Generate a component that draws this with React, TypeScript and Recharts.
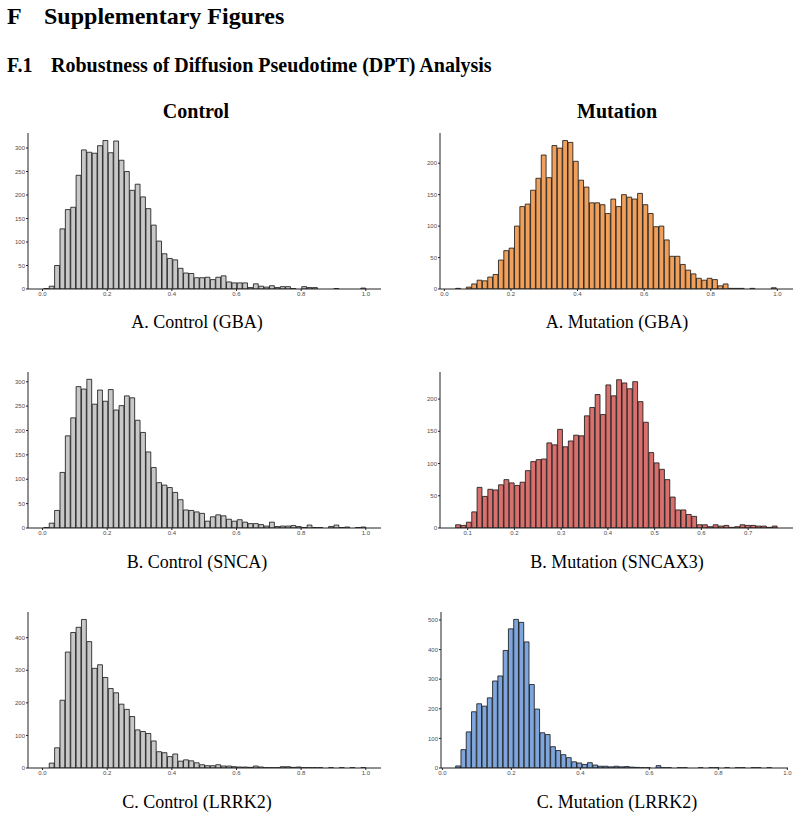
import { BarChart, Bar, XAxis, YAxis } from "recharts";

// Pseudotime histograms, 60 bins each (counts per bin)
const controlGbaCounts = [
  1, 6, 50, 128, 169, 174, 242, 296, 291, 289, 305, 316, 290, 315, 274, 250, 210, 223, 196, 171,
  136, 102, 75, 65, 62, 44, 34, 33, 24, 24, 25, 20, 25, 28, 15, 13, 13, 13, 3, 11,
  6, 4, 7, 3, 5, 5, 1, 0, 5, 3, 3, 0, 0, 0, 1, 0, 0, 0, 0, 2,
];
const mutationGbaCounts = [
  1, 0, 3, 8, 14, 13, 19, 23, 46, 61, 65, 100, 131, 135, 157, 176, 213, 177, 228, 224,
  236, 233, 203, 173, 162, 137, 137, 134, 120, 143, 131, 150, 146, 143, 152, 134, 120, 99, 100, 78,
  52, 52, 39, 30, 24, 17, 14, 17, 15, 5, 8, 1, 1, 1, 0, 1, 0, 0, 0, 2,
];
const controlSncaCounts = [
  1, 10, 36, 114, 189, 226, 290, 285, 305, 254, 283, 260, 284, 242, 251, 271, 267, 221, 196, 156,
  124, 93, 88, 83, 73, 58, 37, 36, 33, 30, 14, 23, 27, 25, 18, 14, 17, 12, 9, 9,
  7, 4, 12, 3, 4, 4, 5, 3, 1, 6, 1, 1, 0, 3, 6, 1, 2, 0, 1, 2,
];
const mutationSncax3Counts = [
  5, 4, 9, 25, 63, 49, 60, 59, 67, 75, 70, 66, 71, 89, 103, 106, 107, 132, 129, 153,
  126, 135, 144, 143, 174, 187, 207, 176, 222, 205, 230, 225, 216, 227, 196, 164, 117, 101, 91, 75,
  48, 28, 28, 21, 18, 5, 5, 2, 5, 3, 4, 1, 2, 5, 4, 4, 3, 3, 1, 3,
];
const controlLrrk2Counts = [
  0, 15, 62, 208, 356, 416, 432, 456, 388, 306, 317, 278, 244, 231, 196, 180, 158, 117, 112, 106,
  83, 50, 47, 35, 43, 21, 25, 22, 16, 10, 7, 7, 10, 6, 6, 4, 3, 3, 2, 6,
  3, 1, 1, 1, 4, 4, 2, 3, 1, 1, 1, 1, 0, 1, 0, 1, 0, 1, 0, 1,
];
const mutationLrrk2Counts = [
  7, 62, 122, 190, 217, 209, 237, 294, 311, 397, 470, 502, 492, 426, 282, 199, 119, 113, 72, 59,
  45, 35, 21, 17, 12, 18, 10, 6, 6, 4, 6, 4, 5, 3, 2, 1, 1, 0, 8, 1,
  1, 0, 1, 1, 0, 0, 1, 0, 1, 1, 0, 1, 0, 1, 1, 0, 1, 1, 0, 1,
];

// bin edges: [first edge, bin width]
const controlBins = [0.0041, 0.01662];
const mutationGbaBins = [0.034, 0.01607];
const mutationSncax3Bins = [0.0743, 0.01148];
const mutationLrrk2Bins = [0.0386, 0.01529];

const unitTicks = [0, 0.2, 0.4, 0.6, 0.8, 1.0];
const sncax3Ticks = [0.1, 0.2, 0.3, 0.4, 0.5, 0.6, 0.7];
const ticks300 = [0, 50, 100, 150, 200, 250, 300];
const ticks200 = [0, 50, 100, 150, 200];
const ticks400 = [0, 100, 200, 300, 400];
const ticks500 = [0, 100, 200, 300, 400, 500];

const SERIF = "'Liberation Serif', 'Times New Roman', serif";
const SANS = "'Liberation Sans', Arial, sans-serif";

const Y_AXIS_W = 22;
const X_AXIS_H = 14;
const PAD_TOP = 2;
const PAD_RIGHT = 4;

type HistProps = {
  counts: number[];
  bins: number[];
  xDomain: [number, number];
  xTicks: number[];
  yDomain: [number, number];
  yTicks: number[];
  fill: string;
  box: { x: number; y: number; w: number; h: number };
};

function Histogram({ counts, bins, xDomain, xTicks, yDomain, yTicks, fill, box }: HistProps) {
  const [start, step] = bins;
  const data = counts.map((count, i) => ({ mid: start + (i + 0.5) * step, count }));
  const barSize = (box.w * step) / (xDomain[1] - xDomain[0]);
  const tickStyle = { fontSize: 6, fill: "#4d4d4d", fontFamily: SANS };

  return (
    <div style={{ position: "absolute", left: box.x - Y_AXIS_W, top: box.y - PAD_TOP }}>
      <BarChart
        width={box.w + Y_AXIS_W + PAD_RIGHT}
        height={box.h + X_AXIS_H + PAD_TOP}
        data={data}
        margin={{ top: PAD_TOP, right: PAD_RIGHT, bottom: 0, left: 0 }}
        barCategoryGap={0}
        barGap={0}
      >
        <XAxis
          type="number"
          dataKey="mid"
          domain={xDomain}
          ticks={xTicks}
          interval={0}
          allowDataOverflow
          height={X_AXIS_H}
          tick={tickStyle}
          tickSize={2}
          tickMargin={1}
          stroke="#222"
          tickFormatter={(v: number) => v.toFixed(1)}
        />
        <YAxis
          type="number"
          domain={yDomain}
          ticks={yTicks}
          interval={0}
          allowDataOverflow
          width={Y_AXIS_W}
          tick={tickStyle}
          tickSize={2}
          tickMargin={1}
          stroke="#222"
        />
        <Bar
          dataKey="count"
          fill={fill}
          stroke="#111"
          strokeWidth={0.8}
          barSize={barSize}
          isAnimationActive={false}
        />
      </BarChart>
    </div>
  );
}

const LEFT_X = 28;
const RIGHT_X = 440;
const PLOT_W = 353;
const PLOT_H = 156;

export default function App() {
  return (
    <div style={{ position: "absolute", left: 0, top: 0, width: 800, height: 819, background: "#fff" }}>
      <svg width={800} height={819} style={{ position: "absolute", left: 0, top: 0 }}>
        <g fontFamily={SERIF} fontWeight="bold" fill="#000">
          <text x={7} y={24} fontSize={24}>F</text>
          <text x={44} y={24} fontSize={24}>Supplementary Figures</text>
          <text x={7} y={71.5} fontSize={20}>F.1</text>
          <text x={51} y={71.5} fontSize={20}>Robustness of Diffusion Pseudotime (DPT) Analysis</text>
          <text x={196} y={118} fontSize={20} textAnchor="middle">Control</text>
          <text x={617} y={118} fontSize={20} textAnchor="middle">Mutation</text>
        </g>
        <g fontFamily={SERIF} fontSize={18} fill="#000" textAnchor="middle">
          <text x={197} y={328}>A. Control (GBA)</text>
          <text x={617} y={328}>A. Mutation (GBA)</text>
          <text x={197} y={568}>B. Control (SNCA)</text>
          <text x={617} y={568}>B. Mutation (SNCAX3)</text>
          <text x={197} y={808}>C. Control (LRRK2)</text>
          <text x={617} y={808}>C. Mutation (LRRK2)</text>
        </g>
      </svg>

      <Histogram
        counts={controlGbaCounts}
        bins={controlBins}
        xDomain={[-0.045, 1.047]}
        xTicks={unitTicks}
        yDomain={[0, 332]}
        yTicks={ticks300}
        fill="#c8c8c8"
        box={{ x: LEFT_X, y: 133, w: PLOT_W, h: PLOT_H }}
      />
      <Histogram
        counts={mutationGbaCounts}
        bins={mutationGbaBins}
        xDomain={[-0.013, 1.047]}
        xTicks={unitTicks}
        yDomain={[0, 248]}
        yTicks={ticks200}
        fill="#f0a05a"
        box={{ x: RIGHT_X, y: 133, w: PLOT_W, h: PLOT_H }}
      />
      <Histogram
        counts={controlSncaCounts}
        bins={controlBins}
        xDomain={[-0.045, 1.047]}
        xTicks={unitTicks}
        yDomain={[0, 320]}
        yTicks={ticks300}
        fill="#c8c8c8"
        box={{ x: LEFT_X, y: 372, w: PLOT_W, h: PLOT_H }}
      />
      <Histogram
        counts={mutationSncax3Counts}
        bins={mutationSncax3Bins}
        xDomain={[0.0408, 0.796]}
        xTicks={sncax3Ticks}
        yDomain={[0, 242]}
        yTicks={ticks200}
        fill="#d8716e"
        box={{ x: RIGHT_X, y: 372, w: PLOT_W, h: PLOT_H }}
      />
      <Histogram
        counts={controlLrrk2Counts}
        bins={controlBins}
        xDomain={[-0.045, 1.047]}
        xTicks={unitTicks}
        yDomain={[0, 479]}
        yTicks={ticks400}
        fill="#c8c8c8"
        box={{ x: LEFT_X, y: 612, w: PLOT_W, h: PLOT_H }}
      />
      <Histogram
        counts={mutationLrrk2Counts}
        bins={mutationLrrk2Bins}
        xDomain={[-0.004, 1.002]}
        xTicks={unitTicks}
        yDomain={[0, 527]}
        yTicks={ticks500}
        fill="#7ea6dc"
        box={{ x: 441, y: 612, w: 347, h: PLOT_H }}
      />
    </div>
  );
}
